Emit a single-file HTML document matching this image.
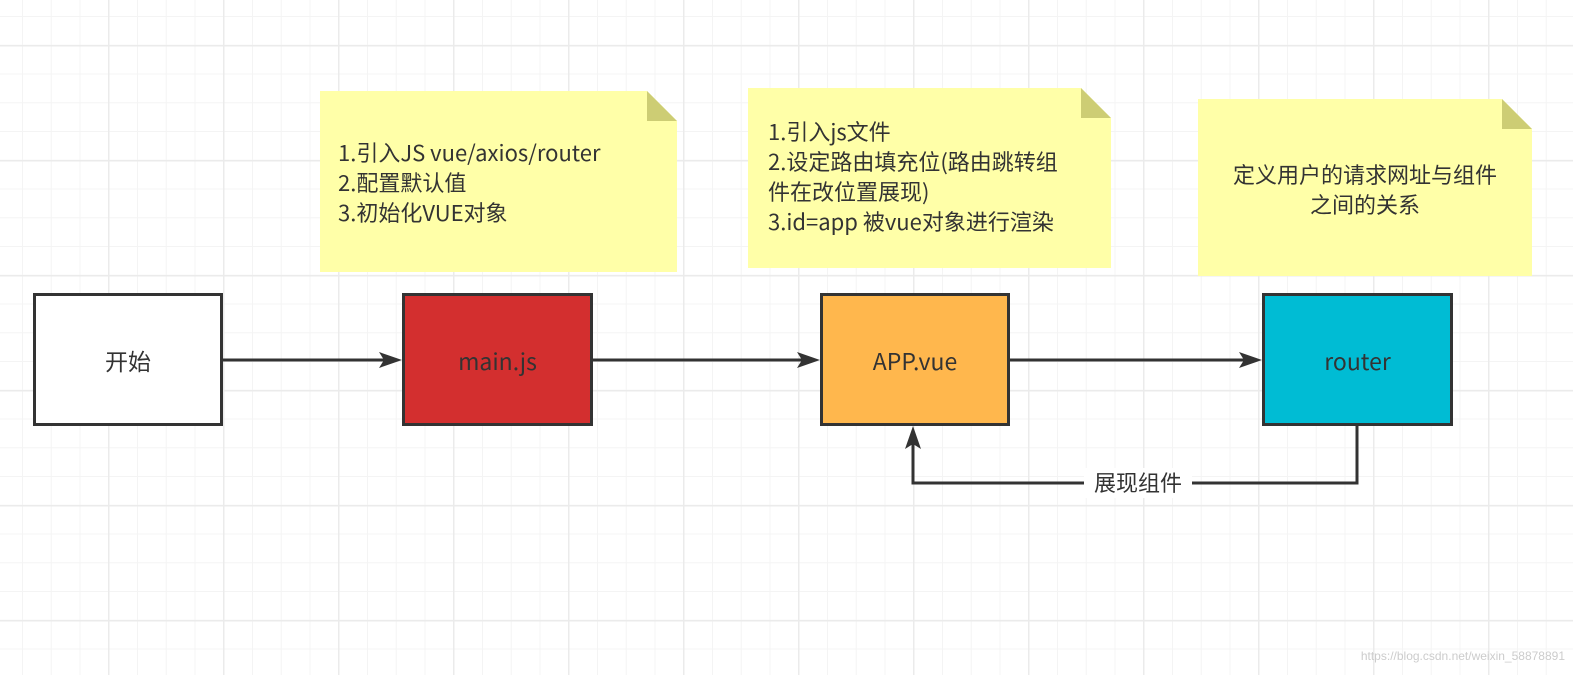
<!DOCTYPE html>
<html><head><meta charset="utf-8"><style>
body{margin:0;width:1573px;height:675px;overflow:hidden;background:#fff;
background-image:linear-gradient(#ebebeb 1.5px,transparent 1.5px),linear-gradient(90deg,#ebebeb 1.5px,transparent 1.5px),linear-gradient(#f4f4f4 1px,transparent 1px),linear-gradient(90deg,#f4f4f4 1px,transparent 1px);
background-size:115px 115px,115px 115px,28.75px 28.75px,28.75px 28.75px;
background-position:0 45px,108px 0,0 16px,22px 0;
font-family:"Noto Sans CJK SC","Liberation Sans",sans-serif;color:#333}
.n{position:absolute;background:#ffffa8;font-size:22px;line-height:30px;box-sizing:border-box;white-space:nowrap}
.b{position:absolute;border:3px solid #333;box-sizing:border-box;display:flex;align-items:center;justify-content:center;font-size:23px;color:#333}
.fold{position:absolute;width:30px;height:30px;background:#cdcd74;clip-path:polygon(0 0,100% 100%,0 100%)}
</style></head><body>
<div class="n" style="left:320px;top:91px;width:357px;height:181px;padding:46px 0 0 18px;clip-path:polygon(0 0,327px 0,357px 30px,357px 181px,0 181px)">1.引入JS vue/axios/router<br>2.配置默认值<br>3.初始化VUE对象</div>
<div class="fold" style="left:647px;top:91px"></div>
<div class="n" style="left:748px;top:88px;width:363px;height:180px;padding:28px 0 0 20px;clip-path:polygon(0 0,333px 0,363px 30px,363px 180px,0 180px)">1.引入js文件<br>2.设定路由填充位(路由跳转组<br>件在改位置展现)<br>3.id=app 被vue对象进行渲染</div>
<div class="fold" style="left:1081px;top:88px"></div>
<div class="n" style="left:1198px;top:99px;width:334px;height:177px;padding:60px 0 0 0;text-align:center;clip-path:polygon(0 0,304px 0,334px 30px,334px 177px,0 177px)">定义用户的请求网址与组件<br>之间的关系</div>
<div class="fold" style="left:1502px;top:99px"></div>
<div class="b" style="left:33px;top:293px;width:190px;height:133px;background:#fff">开始</div>
<div class="b" style="left:402px;top:293px;width:191px;height:133px;background:#d32f2f">main.js</div>
<div class="b" style="left:820px;top:293px;width:190px;height:133px;background:#ffb74d">APP.vue</div>
<div class="b" style="left:1262px;top:293px;width:191px;height:133px;background:#00bcd4">router</div>
<svg width="1573" height="675" style="position:absolute;left:0;top:0">
<g stroke="#333" stroke-width="3" fill="none">
<line x1="223" y1="360" x2="385" y2="360"/>
<line x1="593" y1="360" x2="803" y2="360"/>
<line x1="1010" y1="360" x2="1245" y2="360"/>
<polyline points="1357,426 1357,483 913,483 913,443"/>
</g>
<g fill="#333">
<polygon points="402,360 379,352 384,360 379,368"/>
<polygon points="820,360 797,352 802,360 797,368"/>
<polygon points="1262,360 1239,352 1244,360 1239,368"/>
<polygon points="913,426 905,449 913,444 921,449"/>
</g>
<rect x="1084" y="468" width="108" height="30" fill="#fff"/>
<text x="1138" y="491" font-size="22" text-anchor="middle" fill="#333" font-family="Noto Sans CJK SC,sans-serif">展现组件</text>
<text x="1565" y="660" font-size="12" text-anchor="end" fill="#ccc" font-family="Liberation Sans,sans-serif">https://blog.csdn.net/weixin_58878891</text>
</svg>
</body></html>
